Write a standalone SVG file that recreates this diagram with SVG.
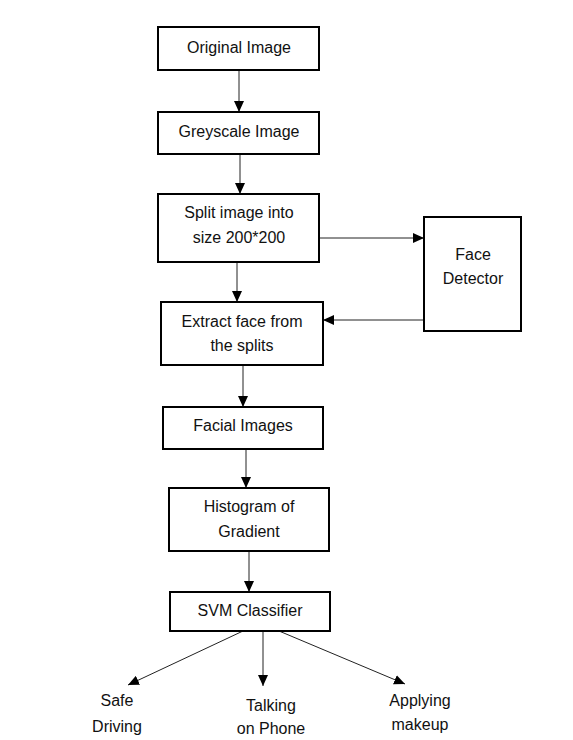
<svg xmlns="http://www.w3.org/2000/svg" width="573" height="740" viewBox="0 0 573 740">
<style>
.box{fill:#fff;stroke:#000;stroke-width:2}
.t{font-family:"Liberation Sans",Arial,sans-serif;font-size:16px;fill:#111;text-anchor:middle}
.c{stroke:#222;stroke-width:1;fill:none;marker-end:url(#ah)}
</style>
<defs>
<marker id="ah" viewBox="0 0 11 10" refX="11" refY="5" markerWidth="11" markerHeight="10" markerUnits="userSpaceOnUse" orient="auto">
<path d="M0,0 L11,5 L0,10 z" fill="#000"/>
</marker>
</defs>
<rect width="573" height="740" fill="#fff"/>
<g id="connectors">
<line class="c" x1="239" y1="70" x2="239" y2="112"/>
<line class="c" x1="240" y1="154" x2="240" y2="194"/>
<line class="c" x1="319" y1="238" x2="424" y2="238"/>
<line class="c" x1="424" y1="320" x2="323" y2="320"/>
<line class="c" x1="237" y1="262" x2="237" y2="302"/>
<line class="c" x1="243" y1="365" x2="243" y2="407"/>
<line class="c" x1="246" y1="449" x2="246" y2="488"/>
<line class="c" x1="249" y1="551" x2="249" y2="592"/>
<line class="c" x1="243" y1="631" x2="128" y2="685"/>
<line class="c" x1="263" y1="631" x2="263" y2="686"/>
<line class="c" x1="279" y1="631" x2="405" y2="684"/>
</g>
<g id="original">
<rect class="box" x="158" y="27" width="161" height="43"/>
<text class="t" x="239" y="53">Original Image</text>
</g>
<g id="greyscale">
<rect class="box" x="158" y="112" width="161" height="42"/>
<text class="t" x="239" y="137">Greyscale Image</text>
</g>
<g id="split">
<rect class="box" x="158" y="194" width="161" height="68"/>
<text class="t" x="239" y="218">Split image into</text>
<text class="t" x="239" y="243">size 200*200</text>
</g>
<g id="face-detector">
<rect class="box" x="424" y="217" width="97" height="114"/>
<text class="t" x="473" y="260">Face</text>
<text class="t" x="473" y="284">Detector</text>
</g>
<g id="extract">
<rect class="box" x="161" y="302" width="162" height="63"/>
<text class="t" x="242" y="327">Extract face from</text>
<text class="t" x="242" y="351">the splits</text>
</g>
<g id="facial">
<rect class="box" x="163" y="407" width="160" height="42"/>
<text class="t" x="243" y="431">Facial Images</text>
</g>
<g id="hog">
<rect class="box" x="169" y="488" width="160" height="63"/>
<text class="t" x="249" y="512">Histogram of</text>
<text class="t" x="249" y="537">Gradient</text>
</g>
<g id="svm">
<rect class="box" x="170" y="592" width="160" height="39"/>
<text class="t" x="250" y="616">SVM Classifier</text>
</g>
<g id="safe">
<text class="t" x="117" y="706">Safe</text>
<text class="t" x="117" y="732">Driving</text>
</g>
<g id="talking">
<text class="t" x="271" y="711">Talking</text>
<text class="t" x="271" y="734">on Phone</text>
</g>
<g id="makeup">
<text class="t" x="420" y="706">Applying</text>
<text class="t" x="420" y="730">makeup</text>
</g>
</svg>
